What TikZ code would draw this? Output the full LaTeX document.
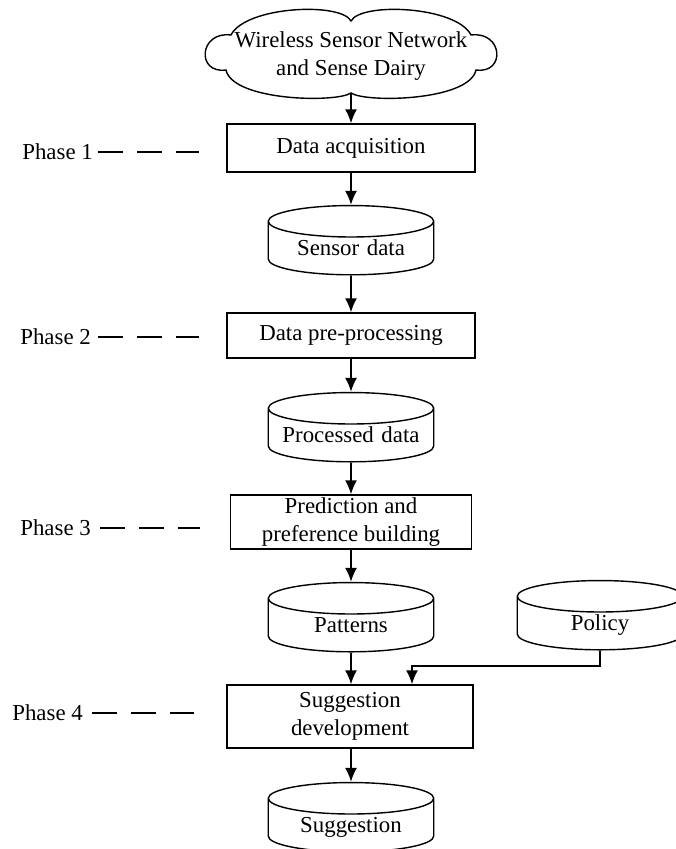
\documentclass[tikz,border=0pt]{standalone}
\usepackage{fontspec}
\setmainfont{Liberation Serif}
\usepackage{tikz}
\usetikzlibrary{shapes,arrows.meta,positioning,calc}

\begin{document}
\begin{tikzpicture}[
    font=\fontsize{13}{16}\selectfont,
    phase/.style={rectangle, draw, line width=0.8pt, minimum width=4.96cm, minimum height=0.96cm, align=center, inner sep=1pt},
    store/.style={cylinder, shape border rotate=90, aspect=0.19, draw, line width=0.8pt, text width=3.24cm, align=center, text height=9pt, text depth=3pt, minimum height=0.98cm, inner sep=1pt},
    source/.style={align=center, inner sep=0pt},
    label/.style={anchor=west, inner sep=0pt},
    flow/.style={-{Latex[length=0.28cm,width=0.24cm]}, line width=0.9pt},
    guide/.style={line width=0.8pt, dash pattern=on 0.5cm off 0.28cm},
]
\useasboundingbox (0,0) rectangle (13.5,-16.98);

% Source cloud
\node[source] (wsn) at (7.02,-1.12) {Wireless Sensor Network\\and Sense Dairy};
\begin{scope}[shift={(wsn.center)}, x=0.02cm, y=0.02cm]
\draw[line width=0.8pt] (0,35) .. controls (-10,54) and (-105,50) .. (-120,21)
    .. controls (-152,25) and (-155,-18) .. (-125,-14)
    .. controls (-118,-45) and (-15,-47) .. (0,-37)
    .. controls (15,-47) and (118,-45) .. (125,-14)
    .. controls (155,-18) and (152,25) .. (120,21)
    .. controls (105,50) and (10,54) .. (0,35) -- cycle;
\end{scope}
\coordinate (wsnb) at (7.02,-1.86);

% Main column
\node[phase] (d1) at (7.02,-2.96) {Data acquisition};
\node[store] (sd) at (7.02,-5.0) {Sensor data};
\node[phase, minimum height=0.9cm] (d2) at (7.02,-6.71) {Data pre-processing};
\node[store] (pd) at (7.02,-8.74) {Processed data};
\node[phase, minimum width=4.82cm, minimum height=1.08cm] (d3) at (7.02,-10.44) {Prediction and\\preference building};
\node[store] (pat) at (7.02,-12.54) {Patterns};
\node[store] (pol) at (12.0,-12.5) {Policy};
\node[phase, minimum width=4.92cm, minimum height=1.26cm] (d4) at (7.0,-14.33) {Suggestion\\development};
\node[store] (sg) at (7.02,-16.54) {Suggestion};

% Phase labels
\node[label] (p1) at (0.44,-3.04) {Phase 1};
\node[label] (p2) at (0.4,-6.74) {Phase 2};
\node[label] (p3) at (0.4,-10.56) {Phase 3};
\node[label] (p4) at (0.24,-14.26) {Phase 4};

\foreach \p/\d/\g/\e in {p1/d1/0.1/0.54, p2/d2/0.14/0.54, p3/d3/0.18/0.6, p4/d4/0.18/0.64}
    \draw[guide] ($(\p.east)+(\g,0)$) -- ($(\p.east -| \d.west)+(-\e,0)$);

% Arrows
\draw[flow] (wsnb) -- (d1.north);
\draw[flow] (d1.south) -- (sd.north);
\draw[flow] (sd.south) -- (d2.north);
\draw[flow] (d2.south) -- (pd.north);
\draw[flow] (pd.south) -- (d3.north);
\draw[flow] (d3.south) -- (pat.north);
\draw[flow] (pat.south) -- (pat.south |- d4.north);
\draw[flow] (sg.north |- d4.south) -- (sg.north);

\coordinate (bend) at (8.24,-13.32);
\draw[flow] (pol.south) |- (bend) -- (bend |- d4.north);

\end{tikzpicture}
\end{document}
